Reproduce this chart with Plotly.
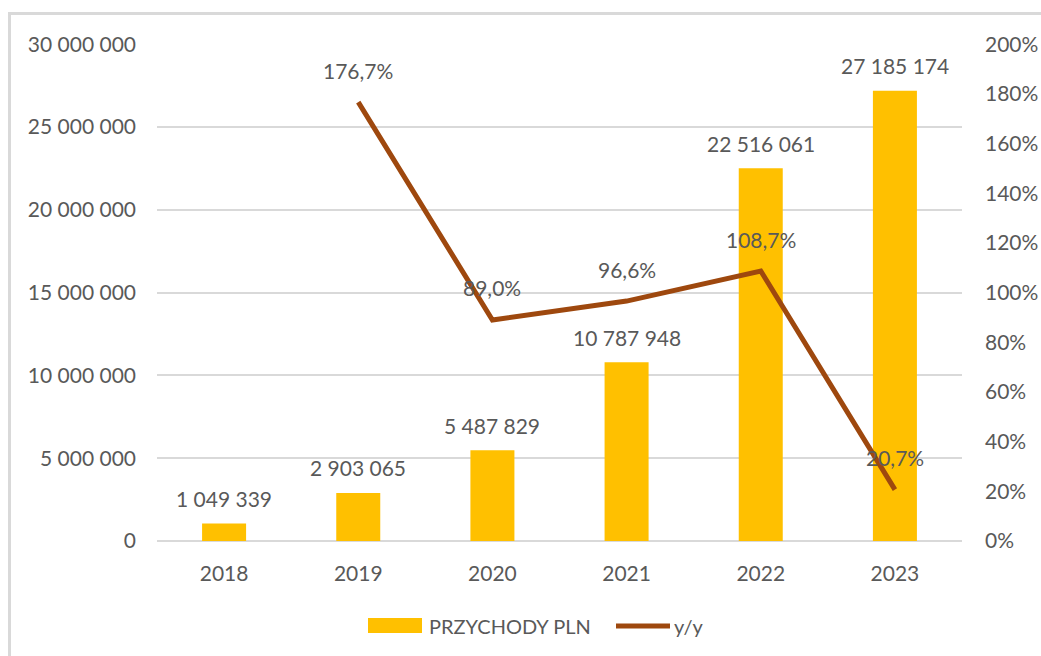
import plotly.graph_objects as go

years = ["2018", "2019", "2020", "2021", "2022", "2023"]
revenue = [1049339, 2903065, 5487829, 10787948, 22516061, 27185174]
yoy = [None, 176.7, 89.0, 96.6, 108.7, 20.7]

BAR_COLOR = "#FFC000"
LINE_COLOR = "#9E480E"
TEXT_COLOR = "#595959"
GRID_COLOR = "#D9D9D9"
FONT = "Lato, 'Open Sans', sans-serif"
FS = 21

fig = go.Figure()
fig.add_trace(go.Bar(
    x=years, y=revenue, name="PRZYCHODY PLN",
    marker=dict(color=BAR_COLOR, line=dict(width=0)),
    yaxis="y", hoverinfo="skip", showlegend=False,
))
fig.add_trace(go.Scatter(
    x=years, y=yoy, name="y/y", mode="lines",
    line=dict(color=LINE_COLOR, width=5),
    yaxis="y2", hoverinfo="skip", connectgaps=False, showlegend=False,
))

annotations = []
for i, v in enumerate(revenue):
    annotations.append(dict(
        x=i, y=v, xref="x", yref="y", text=f"{v:,}".replace(",", " "),
        showarrow=False, yshift=25, yanchor="middle",
        font=dict(family=FONT, size=FS, color=TEXT_COLOR),
    ))
for i, v in enumerate(yoy):
    if v is None:
        continue
    annotations.append(dict(
        x=i, y=v, xref="x", yref="y2", text=f"{v:.1f}".replace(".", ",") + "%",
        showarrow=False, yshift=32, yanchor="middle",
        font=dict(family=FONT, size=FS, color=TEXT_COLOR),
    ))

L, R, T, B = 157, 79, 44, 115
W, H = 1041, 656
pw, ph = W - L - R, H - T - B

def px_x(p):
    return (p - L) / pw

def px_y(p):
    return (H - B - p) / ph

# custom legend (Excel-style wide swatches)
legend_y = 626
annotations.append(dict(
    x=px_x(427), y=px_y(legend_y), xref="paper", yref="paper", text="PRZYCHODY PLN",
    showarrow=False, xanchor="left", yanchor="middle",
    font=dict(family=FONT, size=FS - 1, color=TEXT_COLOR),
))
annotations.append(dict(
    x=px_x(672), y=px_y(legend_y), xref="paper", yref="paper", text="y/y",
    showarrow=False, xanchor="left", yanchor="middle",
    font=dict(family=FONT, size=FS - 1, color=TEXT_COLOR),
))

shapes = [
    dict(type="rect", xref="paper", yref="paper",
         x0=px_x(9.5), x1=px_x(1060), y0=px_y(680), y1=px_y(13.5),
         line=dict(color=GRID_COLOR, width=3), fillcolor="rgba(0,0,0,0)", layer="below"),
    dict(type="rect", xref="paper", yref="paper",
         x0=px_x(368), x1=px_x(422), y0=px_y(633), y1=px_y(618),
         line=dict(width=0), fillcolor=BAR_COLOR),
    dict(type="line", xref="paper", yref="paper",
         x0=px_x(616), x1=px_x(670), y0=px_y(legend_y), y1=px_y(legend_y),
         line=dict(color=LINE_COLOR, width=5)),
]

fig.update_layout(
    width=W, height=H,
    margin=dict(l=L, r=R, t=T, b=B, pad=0, autoexpand=False),
    paper_bgcolor="white", plot_bgcolor="white",
    separators=", ",
    font=dict(family=FONT, size=FS, color=TEXT_COLOR),
    bargap=0.672,
    showlegend=False,
    xaxis=dict(
        type="category", categoryorder="array", categoryarray=years,
        range=[-0.5, len(years) - 0.5], autorange=False, automargin=False,
        showgrid=False, zeroline=False, showline=False,
        ticks="", ticklabelstandoff=18,
        tickfont=dict(family=FONT, size=FS, color=TEXT_COLOR),
    ),
    yaxis=dict(
        range=[0, 30015000], tickvals=[0, 5000000, 10000000, 15000000, 20000000, 25000000, 30000000],
        tickformat=",d", automargin=False,
        showgrid=True, gridcolor=GRID_COLOR, gridwidth=1.5,
        zeroline=True, zerolinecolor=GRID_COLOR, zerolinewidth=1.5,
        showline=False, ticks="", ticklabelstandoff=20,
        tickfont=dict(family=FONT, size=FS, color=TEXT_COLOR),
    ),
    yaxis2=dict(
        overlaying="y", side="right", range=[0, 200.1], dtick=20, tick0=0,
        ticksuffix="%", showgrid=False, zeroline=False, showline=False, automargin=False,
        ticks="", ticklabelstandoff=22,
        tickfont=dict(family=FONT, size=FS, color=TEXT_COLOR),
    ),
    annotations=annotations,
    shapes=shapes,
)

fig.write_html(
    "out.html",
    config={"displayModeBar": False},
    post_script="document.body.style.margin='0';document.body.style.overflow='hidden';",
)
